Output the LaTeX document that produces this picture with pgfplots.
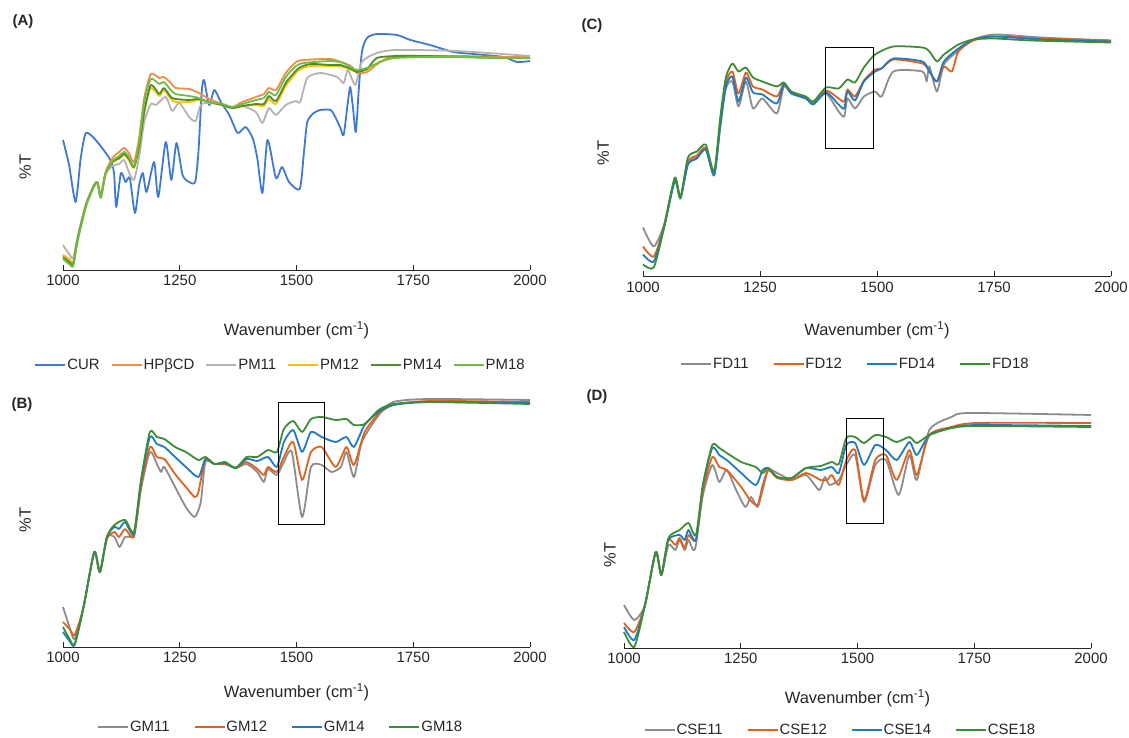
\documentclass[border=0pt]{standalone}
\usepackage{fontspec}
\setmainfont{Liberation Sans}
\usepackage{pgfplots}
\pgfplotsset{compat=1.18}

\definecolor{curB}{HTML}{3F7AD0}
\definecolor{hpO}{HTML}{F28B46}
\definecolor{pmGray}{HTML}{B3B3B3}
\definecolor{pmY}{HTML}{FFC000}
\definecolor{pmDG}{HTML}{4E8A2E}
\definecolor{pmLG}{HTML}{6DBE45}
\definecolor{sGray}{HTML}{8C8C8C}
\definecolor{sOr}{HTML}{E0621C}
\definecolor{sBl}{HTML}{2179C2}
\definecolor{sGr}{HTML}{3B8E33}
\definecolor{txt}{HTML}{262626}

\pgfplotsset{
  ftir/.style={
    scale only axis, width=467bp,
    xmin=1000, xmax=2000,
    axis x line*=bottom, axis y line*=left,
    y axis line style={draw=none}, ytick=\empty,
    x axis line style={line width=0.9bp, txt},
    xtick={1000,1250,1500,1750,2000},
    xticklabels={1000,1250,1500,1750,2000},
    tick align=inside, major tick length=5bp,
    xtick style={line width=0.9bp, txt},
    tick label style={font=\fontsize{15}{18}\selectfont, text=txt},
    xticklabel style={yshift=-2bp},
    label style={font=\fontsize{16.5}{19}\selectfont, text=txt},
    xlabel={Wavenumber (cm\textsuperscript{-1})},
    ylabel={\%T},
    clip=false,
    legend style={draw=none, fill=none, font=\fontsize{15}{18}\selectfont, text=txt,
      nodes={inner xsep=1bp}},
    legend cell align=left,
    legend image code/.code={\draw[#1] (0bp,0bp) -- (30bp,0bp);},
    every axis plot/.append style={line width=1.8bp, smooth, tension=0.4, line join=round},
  },
  four/.style={legend columns=4,
    legend style={/tikz/every even column/.append style={column sep=23bp}}},
}

\begin{document}
\begin{tikzpicture}
\path[use as bounding box] (0bp,0bp) rectangle (1129bp,738bp);

% ---------------- Panel A ----------------
\begin{axis}[ftir, at={(63bp,468bp)}, anchor=south west,
  height=248bp, ymin=-8, ymax=240,
  xlabel style={at={(axis description cs:0.5,-0.242)}, anchor=center},
  ylabel style={at={(axis description cs:-0.081,0.415)}, anchor=center},
  legend columns=6,
  legend style={at={(axis description cs:0.465,-0.383)}, anchor=center,
    /tikz/every even column/.append style={column sep=10bp}}]
\addplot[curB] coordinates {(1000,122) (1013,97) (1027,60) (1038,104) (1049,129) (1070,122) (1099,104) (1109,90) (1114,55) (1124,89) (1134,80) (1143,84) (1154,49) (1163,77) (1171,89) (1179,70) (1195,100) (1204,65) (1220,120) (1232,82) (1243,119) (1256,87) (1270,80) (1283,80) (1290,110) (1297,170) (1302,182) (1313,157) (1324,172) (1338,160) (1356,147) (1374,129) (1391,135) (1406,124) (1416,104) (1427,69) (1438,122) (1456,84) (1469,95) (1484,80) (1507,73) (1516,110) (1523,140) (1537,149) (1551,152) (1573,152) (1583,145) (1594,134) (1601,127) (1610,160) (1615,175) (1621,154) (1627,130) (1633,170) (1640,210) (1651,224) (1672,228) (1715,227) (1744,222) (1786,217) (1836,210) (1879,208) (1943,205) (1972,200) (2000,201)};
\addlegendentry{CUR}
\addplot[hpO] coordinates {(1000,7) (1013,3) (1022,0) (1031,24) (1049,57) (1066,77) (1074,80) (1081,67) (1091,90) (1106,104) (1120,110) (1131,114) (1141,109) (1152,100) (1163,124) (1174,164) (1188,188) (1206,184) (1216,185) (1231,179) (1241,174) (1270,173) (1291,169) (1313,163) (1341,158) (1363,155) (1384,160) (1413,165) (1430,168) (1441,174) (1456,172) (1477,189) (1499,200) (1516,202) (1573,203) (1601,199) (1612,197) (1619,195) (1630,189) (1651,190) (1679,200) (1708,206) (1772,206) (1850,206) (1950,205) (2000,205)};
\addlegendentry{HPβCD}
\addplot[pmGray] coordinates {(1000,17) (1013,8) (1022,4) (1031,25) (1049,58) (1066,76) (1074,79) (1081,65) (1091,88) (1106,96) (1120,98) (1131,102) (1141,90) (1152,82) (1163,105) (1174,140) (1188,158) (1199,157) (1220,165) (1234,151) (1249,159) (1270,145) (1284,141) (1295,157) (1313,159) (1341,157) (1363,154) (1384,156) (1413,150) (1427,139) (1441,154) (1456,147) (1477,157) (1499,161) (1508,160) (1523,184) (1551,189) (1587,185) (1601,179) (1610,192) (1626,177) (1640,200) (1672,209) (1715,212) (1843,211) (2000,206)};
\addlegendentry{PM11}
\addplot[pmY] coordinates {(1000,7) (1013,2) (1022,-1) (1031,22) (1049,56) (1066,76) (1074,79) (1081,65) (1091,88) (1106,100) (1120,103) (1131,107) (1141,102) (1152,94) (1163,114) (1174,150) (1188,174) (1206,166) (1216,172) (1231,163) (1241,160) (1270,160) (1291,162) (1313,160) (1341,157) (1363,154) (1384,156) (1413,157) (1430,156) (1441,163) (1456,158) (1477,176) (1487,182) (1505,192) (1530,196) (1573,196) (1601,195) (1612,193) (1622,191) (1630,190) (1651,193) (1679,200) (1708,204) (1772,205) (1850,205) (1950,204) (2000,204)};
\addlegendentry{PM12}
\addplot[pmDG] coordinates {(1000,5) (1013,0) (1022,-2) (1031,22) (1049,56) (1066,76) (1074,79) (1081,65) (1091,88) (1106,100) (1120,104) (1131,108) (1141,103) (1152,95) (1163,115) (1174,150) (1188,177) (1206,168) (1216,174) (1231,165) (1241,163) (1270,162) (1291,163) (1313,160) (1341,157) (1363,154) (1384,156) (1413,158) (1430,158) (1441,166) (1456,161) (1477,179) (1487,185) (1505,194) (1530,198) (1573,197) (1594,197) (1612,194) (1622,192) (1630,190) (1651,193) (1672,204) (1715,206) (1772,206) (1850,205) (1950,204) (2000,204)};
\addlegendentry{PM14}
\addplot[pmLG] coordinates {(1000,3) (1013,-2) (1022,-4) (1031,20) (1049,55) (1066,75) (1074,79) (1081,64) (1091,88) (1106,101) (1120,106) (1131,110) (1141,105) (1152,96) (1163,120) (1174,160) (1188,183) (1206,178) (1216,180) (1231,172) (1241,168) (1270,166) (1291,164) (1313,160) (1341,158) (1363,155) (1384,158) (1413,162) (1430,164) (1441,170) (1456,167) (1477,185) (1499,196) (1516,199) (1573,201) (1601,199) (1612,196) (1619,194) (1630,192) (1651,194) (1679,200) (1708,204) (1772,205) (1850,205) (1950,204) (2000,204)};
\addlegendentry{PM18}
\end{axis}

% ---------------- Panel C ----------------
\begin{axis}[ftir, four, at={(643bp,461.5bp)}, anchor=south west, width=468bp,
  height=245bp, ymin=0, ymax=245,
  xlabel style={at={(axis description cs:0.5,-0.218)}, anchor=center},
  ylabel style={at={(axis description cs:-0.085,0.504)}, anchor=center},
  legend style={at={(axis description cs:0.453,-0.357)}, anchor=center}]
\addplot[sGray] coordinates {(1000,49) (1023,30) (1045,52) (1068,98) (1080,79) (1096,113) (1115,119) (1134,128) (1152,102) (1165,150) (1177,188) (1191,195) (1204,170) (1220,195) (1235,168) (1255,178) (1286,163) (1301,190) (1317,183) (1348,178) (1364,173) (1391,183) (1418,165) (1430,160) (1437,178) (1453,168) (1472,180) (1496,185) (1510,180) (1535,205) (1597,205) (1606,195) (1612,210) (1628,185) (1643,212) (1674,226) (1706,237) (1752,242) (1850,239) (2000,236)};
\addlegendentry{FD11}
\addplot[sOr] coordinates {(1000,30) (1023,20) (1045,50) (1068,98) (1080,79) (1096,115) (1115,121) (1134,129) (1152,103) (1165,153) (1177,194) (1191,205) (1204,183) (1220,204) (1235,190) (1255,187) (1286,180) (1301,193) (1317,184) (1348,179) (1364,173) (1391,186) (1418,178) (1430,175) (1437,187) (1453,180) (1472,196) (1496,207) (1510,208) (1535,217) (1597,213) (1612,205) (1628,195) (1643,210) (1660,205) (1674,225) (1706,236) (1752,240) (1850,238) (2000,236)};
\addlegendentry{FD12}
\addplot[sBl] coordinates {(1000,22) (1023,15) (1045,49) (1068,95) (1080,78) (1096,112) (1115,118) (1134,127) (1152,101) (1165,150) (1177,190) (1191,200) (1204,175) (1220,199) (1235,184) (1255,182) (1286,173) (1301,192) (1317,183) (1348,178) (1364,172) (1391,184) (1418,172) (1430,168) (1437,185) (1453,176) (1472,195) (1496,205) (1510,208) (1535,218) (1597,215) (1612,205) (1628,195) (1643,215) (1674,228) (1706,237) (1752,240) (1850,237) (2000,235)};
\addlegendentry{FD14}
\addplot[sGr] coordinates {(1000,12) (1023,9) (1045,49) (1068,99) (1080,79) (1096,119) (1115,125) (1134,132) (1152,105) (1165,159) (1177,199) (1191,213) (1204,205) (1220,209) (1235,199) (1255,195) (1286,190) (1301,194) (1317,185) (1348,180) (1364,175) (1391,189) (1418,188) (1437,197) (1453,194) (1472,209) (1496,222) (1535,230) (1597,229) (1612,225) (1628,215) (1643,222) (1674,232) (1706,237) (1752,238) (1830,236) (2000,234)};
\addlegendentry{FD18}
\draw[line width=0.9bp, black] (axis cs:1389,128) rectangle (axis cs:1493,229);
\end{axis}

% ---------------- Panel B ----------------
\begin{axis}[ftir, four, at={(63bp,91bp)}, anchor=south west,
  height=255bp, ymin=0, ymax=255,
  xlabel style={at={(axis description cs:0.5,-0.176)}, anchor=center},
  ylabel style={at={(axis description cs:-0.081,0.498)}, anchor=center},
  legend style={at={(axis description cs:0.465,-0.314)}, anchor=center}]
\addplot[sGray] coordinates {(1000,40) (1014,20) (1025,8) (1044,40) (1067,95) (1079,75) (1094,110) (1110,110) (1121,100) (1133,110) (1152,113) (1167,158) (1186,195) (1201,183) (1210,175) (1217,180) (1240,160) (1263,140) (1282,130) (1295,145) (1305,185) (1324,183) (1347,183) (1370,179) (1393,183) (1416,175) (1430,165) (1439,178) (1458,172) (1473,185) (1490,195) (1512,130) (1531,180) (1554,182) (1575,175) (1595,180) (1607,195) (1623,170) (1640,205) (1676,232) (1707,245) (1784,248) (2000,247)};
\addlegendentry{GM11}
\addplot[sOr] coordinates {(1000,25) (1014,18) (1025,12) (1044,40) (1067,95) (1079,75) (1094,108) (1110,115) (1120,110) (1133,118) (1152,110) (1167,160) (1186,200) (1201,190) (1217,188) (1240,173) (1263,160) (1282,150) (1290,155) (1305,188) (1324,183) (1347,183) (1370,179) (1393,185) (1416,178) (1430,172) (1439,180) (1458,175) (1473,190) (1493,205) (1512,167) (1531,195) (1554,200) (1584,180) (1607,200) (1623,182) (1646,215) (1676,233) (1707,242) (1784,246) (2000,245)};
\addlegendentry{GM12}
\addplot[sBl] coordinates {(1000,15) (1014,6) (1025,2) (1044,40) (1067,95) (1079,75) (1094,110) (1110,120) (1120,118) (1133,125) (1152,113) (1167,165) (1186,210) (1201,203) (1217,200) (1240,190) (1263,180) (1290,170) (1305,188) (1324,183) (1347,184) (1370,179) (1393,188) (1416,186) (1439,190) (1458,180) (1473,205) (1493,217) (1512,195) (1531,215) (1554,210) (1584,205) (1607,210) (1623,200) (1646,222) (1676,235) (1707,242) (1784,245) (2000,244)};
\addlegendentry{GM14}
\addplot[sGr] coordinates {(1000,20) (1014,8) (1025,3) (1044,40) (1067,95) (1079,75) (1094,110) (1110,122) (1133,127) (1152,115) (1167,167) (1186,215) (1201,210) (1217,208) (1240,200) (1263,195) (1290,187) (1305,190) (1324,183) (1347,185) (1370,179) (1393,190) (1416,190) (1439,197) (1458,195) (1473,218) (1493,226) (1512,215) (1531,228) (1554,230) (1584,227) (1607,228) (1623,222) (1646,223) (1676,237) (1707,243) (1784,245) (2000,243)};
\addlegendentry{GM18}
\draw[line width=0.9bp, black] (axis cs:1462,123) rectangle (axis cs:1559,245);
\end{axis}

% ---------------- Panel D ----------------
\begin{axis}[ftir, four, at={(624bp,90bp)}, anchor=south west,
  height=238bp, ymin=-3, ymax=235,
  xlabel style={at={(axis description cs:0.5,-0.21)}, anchor=center},
  ylabel style={at={(axis description cs:-0.030,0.39)}, anchor=center},
  legend style={at={(axis description cs:0.4625,-0.345)}, anchor=center}]
\addplot[sGray] coordinates {(1000,40) (1022,25) (1045,40) (1068,93) (1080,70) (1095,100) (1110,95) (1119,105) (1130,95) (1138,105) (1148,95) (1154,100) (1169,150) (1189,180) (1204,163) (1220,175) (1240,155) (1260,138) (1272,148) (1286,138) (1297,155) (1309,175) (1328,172) (1359,165) (1390,170) (1418,155) (1430,168) (1440,160) (1460,165) (1476,180) (1495,190) (1514,143) (1538,180) (1561,185) (1588,150) (1611,190) (1627,165) (1654,215) (1701,228) (1740,232) (2000,230)};
\addlegendentry{CSE11}
\addplot[sOr] coordinates {(1000,22) (1022,13) (1045,40) (1068,93) (1080,70) (1095,105) (1110,100) (1119,107) (1130,97) (1138,110) (1154,105) (1169,155) (1189,188) (1204,178) (1220,175) (1251,158) (1270,145) (1286,140) (1297,160) (1309,175) (1328,167) (1359,165) (1390,172) (1421,165) (1435,165) (1445,170) (1460,160) (1476,185) (1495,195) (1514,145) (1538,185) (1561,190) (1584,165) (1611,195) (1627,170) (1654,210) (1701,218) (1755,222) (2000,222)};
\addlegendentry{CSE12}
\addplot[sBl] coordinates {(1000,18) (1022,5) (1045,40) (1068,93) (1080,70) (1095,105) (1119,110) (1130,105) (1138,115) (1154,105) (1169,160) (1189,197) (1204,190) (1220,185) (1251,172) (1282,160) (1297,175) (1309,177) (1328,168) (1359,167) (1390,177) (1421,175) (1445,178) (1460,172) (1476,200) (1495,202) (1514,180) (1538,200) (1561,195) (1584,185) (1611,203) (1627,190) (1654,210) (1701,217) (1755,220) (2000,219)};
\addlegendentry{CSE14}
\addplot[sGr] coordinates {(1000,13) (1022,-2) (1045,40) (1068,93) (1080,70) (1095,107) (1119,115) (1138,122) (1154,110) (1169,160) (1189,200) (1204,197) (1220,192) (1251,183) (1282,178) (1297,172) (1309,177) (1328,168) (1359,167) (1390,177) (1421,179) (1445,183) (1460,181) (1476,207) (1495,208) (1514,202) (1538,210) (1561,208) (1584,203) (1611,208) (1627,202) (1654,210) (1701,217) (1755,219) (2000,218)};
\addlegendentry{CSE18}
\draw[line width=0.9bp, black] (axis cs:1476,122) rectangle (axis cs:1556,227);
\end{axis}

\node[font=\bfseries\fontsize{15}{18}\selectfont, text=txt] at (23bp,716bp) {(A)};
\node[font=\bfseries\fontsize{15}{18}\selectfont, text=txt] at (592bp,712bp) {(C)};
\node[font=\bfseries\fontsize{15}{18}\selectfont, text=txt] at (22bp,333bp) {(B)};
\node[font=\bfseries\fontsize{15}{18}\selectfont, text=txt] at (597bp,341bp) {(D)};
\end{tikzpicture}
\end{document}
